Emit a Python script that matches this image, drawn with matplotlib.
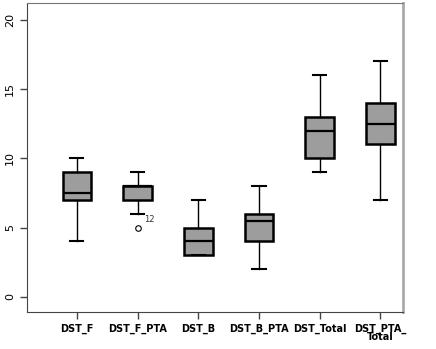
import matplotlib
matplotlib.use("Agg")
import matplotlib.pyplot as plt

# box summary values
labels = ["DST_F", "DST_F_PTA", "DST_B", "DST_B_PTA", "DST_Total", "DST_PTA_\nTotal"]
whis_lo = [4, 6, 3, 2, 9, 7]
q1 = [7, 7, 3, 4, 10, 11]
medians = [7.5, 8, 4, 5.5, 12, 12.5]
q3 = [9, 8, 5, 6, 13, 14]
whis_hi = [10, 9, 7, 8, 16, 17]
fliers = [[], [5], [], [], [], []]
flier_ids = ["", "12", "", "", "", ""]

stats = []
for i, lab in enumerate(labels):
    stats.append({
        "label": lab, "whislo": whis_lo[i], "q1": q1[i], "med": medians[i],
        "q3": q3[i], "whishi": whis_hi[i], "fliers": fliers[i],
    })

fig = plt.figure(figsize=(4.36, 3.49), dpi=100)
ax = fig.add_axes([0.062, 0.106, 0.862, 0.885])

positions = list(range(1, len(labels) + 1))
bp = ax.bxp(stats, positions=positions, widths=0.47, patch_artist=True,
            boxprops=dict(facecolor="#9d9d9d", edgecolor="black", linewidth=1.8),
            medianprops=dict(color="black", linewidth=1.6),
            whiskerprops=dict(color="black", linewidth=1),
            capprops=dict(color="black", linewidth=1.5),
            flierprops=dict(marker="o", markersize=4, markerfacecolor="white",
                            markeredgecolor="black", markeredgewidth=0.8),
            capwidths=0.22)

for i, fl in enumerate(fliers):
    for v in fl:
        ax.annotate(flier_ids[i], (positions[i], v), xytext=(5, 4),
                    textcoords="offset points", fontsize=6, color="#333333")

ax.set_xlim(0.18, 6.37)
ax.set_ylim(-1.1, 21.2)
ax.set_yticks([0, 5, 10, 15, 20])
ax.set_yticklabels(["0", "5", "10", "15", "20"], rotation=90, va="center", fontsize=8)
ax.set_xticks(positions)
ax.set_xticklabels(labels, fontsize=7, fontweight="bold", linespacing=0.8)
for t in ax.get_xticklabels():
    t.set_multialignment("center")
ax.tick_params(axis="both", length=5, width=1, color="#444444")

ax.spines["left"].set_color("#444444")
ax.spines["bottom"].set_color("#444444")
ax.spines["top"].set_color("#777777")
ax.spines["right"].set_color("#aaaaaa")
ax.spines["right"].set_linewidth(2)

fig.savefig("out.png", dpi=100)
